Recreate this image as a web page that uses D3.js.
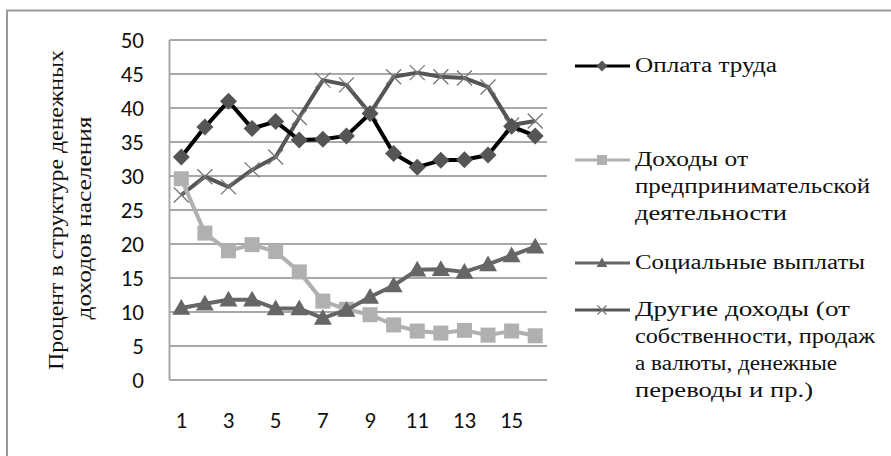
<!DOCTYPE html>
<html><head><meta charset="utf-8">
<script src="https://cdn.jsdelivr.net/npm/d3@7"></script>
<style>body{margin:0;background:#fff}svg{display:block}</style>
</head><body>
<script>
const categories = d3.range(1, 17);
const xTickLabels = [1, 3, 5, 7, 9, 11, 13, 15];
const yTicks = [0, 5, 10, 15, 20, 25, 30, 35, 40, 45, 50];
const oplataTruda = [32.8, 37.2, 41.0, 37.0, 38.0, 35.3, 35.4, 35.9, 39.2, 33.3, 31.3, 32.3, 32.4, 33.1, 37.3, 35.9];
const predprinim = [29.6, 21.6, 19.0, 19.9, 18.9, 15.9, 11.6, 10.4, 9.6, 8.1, 7.2, 6.9, 7.3, 6.6, 7.2, 6.5];
const socialnye = [10.6, 11.2, 11.8, 11.8, 10.5, 10.5, 9.1, 10.3, 12.2, 13.9, 16.2, 16.3, 15.9, 17.0, 18.3, 19.6];
const drugie = [27.2, 29.9, 28.4, 30.9, 32.8, 38.6, 44.1, 43.4, 39.2, 44.6, 45.2, 44.6, 44.4, 43.1, 37.5, 38.1];
const seriesNames = [["Оплата труда"], ["Доходы от", "предпринимательской", "деятельности"], ["Социальные выплаты"], ["Другие доходы (от", "собственности, продаж", "а валюты, денежные", "переводы и пр.)"]];
const yTitle = ["Процент в структуре денежных", "доходов населения"];

const series = [
  {name: seriesNames[0], values: oplataTruda, line: "#000", marker: "diamond", fill: "#555"},
  {name: seriesNames[1], values: predprinim, line: "#b0b0b0", marker: "square", fill: "#b0b0b0"},
  {name: seriesNames[2], values: socialnye, line: "#666", marker: "triangle", fill: "#666"},
  {name: seriesNames[3], values: drugie, line: "#555", marker: "x", fill: "#777"}
];

const SERIF = '"Liberation Serif"';
const TICKF = '"Carlito"';
const W = 891, H = 456;
const svg = d3.select("body").append("svg").attr("width", W).attr("height", H);
svg.append("rect").attr("x", 7).attr("y", 10.5).attr("width", 900).attr("height", 460)
  .attr("fill", "#fff").attr("stroke", "#999").attr("stroke-width", 2);

const plot = {l: 169.5, r: 547, t: 40, b: 380};
const x = d3.scaleBand().domain(categories).range([plot.l, plot.r]);
const y = d3.scaleLinear().domain([0, 50]).range([plot.b, plot.t]);
const cx = d => x(d) + x.bandwidth() / 2;

// gridlines
svg.append("g").selectAll("line").data(yTicks).join("line")
  .attr("x1", plot.l).attr("x2", plot.r).attr("y1", d => y(d)).attr("y2", d => y(d))
  .attr("stroke", "#a8a8a8").attr("stroke-width", 2);
svg.append("line").attr("x1", plot.l).attr("x2", plot.l).attr("y1", plot.t).attr("y2", plot.b)
  .attr("stroke", "#a8a8a8").attr("stroke-width", 2);

svg.append("g").selectAll("text").data(yTicks).join("text")
  .style("font-family", TICKF)
  .attr("x", 144).attr("y", d => y(d)).attr("dy", "0.36em").attr("text-anchor", "end")
  .attr("font-size", 23).attr("fill", "#111").text(d => d);
svg.append("g").selectAll("text").data(xTickLabels).join("text")
  .style("font-family", TICKF)
  .attr("x", d => cx(d)).attr("y", 420).attr("dy", "0.36em").attr("text-anchor", "middle")
  .attr("font-size", 23).attr("fill", "#111").text(d => d);

// y title
const titleLens = [320, 203];
const titleCenters = [210, 218];
const yt = svg.append("g").attr("transform", "rotate(-90)");
yTitle.forEach((t, i) => {
  yt.append("text").style("font-family", SERIF).attr("x", -titleCenters[i]).attr("y", 63 + i * 28).attr("text-anchor", "middle")
    .attr("font-size", 20).attr("fill", "#111")
    .attr("textLength", titleLens[i]).attr("lengthAdjust", "spacingAndGlyphs").text(t);
});

function drawMarker(g, type, px, py, s, fill) {
  if (type === "diamond") {
    const h = s / 2;
    g.append("path").attr("d", `M${px},${py - h}L${px + h},${py}L${px},${py + h}L${px - h},${py}Z`).attr("fill", fill);
  } else if (type === "square") {
    g.append("rect").attr("x", px - s / 2).attr("y", py - s / 2).attr("width", s).attr("height", s).attr("fill", fill);
  } else if (type === "triangle") {
    g.append("path").attr("d", `M${px},${py - s * 0.6}L${px + s * 0.6},${py + s * 0.45}L${px - s * 0.6},${py + s * 0.45}Z`).attr("fill", fill);
  } else if (type === "x") {
    const h = s / 2;
    g.append("path").attr("d", `M${px - h},${py - h}L${px + h},${py + h}M${px - h},${py + h}L${px + h},${py - h}`)
      .attr("stroke", fill).attr("stroke-width", 1.3).attr("fill", "none");
  }
}

const line = d3.line().x((d, i) => cx(categories[i])).y(d => y(d));
const order = [3, 1, 2, 0];
order.forEach(k => {
  const s = series[k];
  const g = svg.append("g");
  g.append("path").attr("d", line(s.values)).attr("fill", "none").attr("stroke", s.line)
    .attr("stroke-width", 4).attr("stroke-linejoin", "round");
  const size = {diamond: 17, square: 15, triangle: 15, x: 15}[s.marker];
  s.values.forEach((v, i) => drawMarker(g, s.marker, cx(categories[i]), y(v), size, s.fill));
});

// legend
const legY = [66, 160, 263, 310];
const legLens = [[142], [113, 235, 152], [230], [215, 240, 202, 178]];
series.forEach((s, k) => {
  const g = svg.append("g");
  g.append("line").attr("x1", 575).attr("x2", 630).attr("y1", legY[k]).attr("y2", legY[k])
    .attr("stroke", s.line).attr("stroke-width", 3);
  const size = {diamond: 11, square: 10, triangle: 9, x: 9}[s.marker];
  drawMarker(g, s.marker, 602, legY[k], size, s.fill);
  s.name.forEach((t, j) => {
    g.append("text").style("font-family", SERIF).attr("x", 635).attr("y", legY[k] + j * 27).attr("dy", "0.32em")
      .attr("font-size", 20).attr("fill", "#111")
      .attr("textLength", legLens[k][j]).attr("lengthAdjust", "spacingAndGlyphs").text(t);
  });
});
</script>
</body></html>
